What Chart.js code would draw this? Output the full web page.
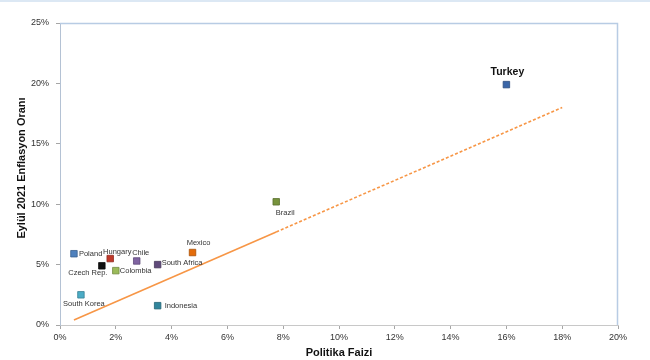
<!DOCTYPE html>
<html>
<head>
<meta charset="utf-8">
<script src="https://cdn.jsdelivr.net/npm/chart.js@4.4.1/dist/chart.umd.min.js"></script>
<style>
  html, body { margin: 0; padding: 0; background: #ffffff; }
  #wrap { position: relative; width: 650px; height: 360px; border-top: 2px solid #dce8f4; box-sizing: border-box; }
  canvas { display: block; }
</style>
</head>
<body>
<div id="wrap"><canvas id="c" width="650" height="358"></canvas></div>
<script>
// ---- data ----
const countries = ["Turkey", "Brazil", "Mexico", "South Africa", "Chile", "Hungary", "Czech Rep.", "Colombia", "Poland", "South Korea", "Indonesia"];
const policyRate = [16.0, 7.75, 4.75, 3.5, 2.75, 1.8, 1.5, 2.0, 0.5, 0.75, 3.5];
const inflation  = [19.9, 10.2, 6.0, 5.0, 5.3, 5.5, 4.9, 4.5, 5.9, 2.5, 1.6];
const pointColors = ["#3a66a8", "#77933c", "#e46c0a", "#604a7b", "#8064a2", "#c0392b", "#111111", "#9bbb59", "#4f81bd", "#4bacc6", "#31859c"];
const trendSolidX = [0.5, 7.75];
const trendSolidY = [0.41, 7.70];
const trendDashX = [7.75, 18.0];
const trendDashY = [7.70, 18.0];
const xTicks = [0, 2, 4, 6, 8, 10, 12, 14, 16, 18, 20];
const yTicks = [0, 5, 10, 15, 20, 25];
const xTitle = "Politika Faizi";
const yTitle = "Eylül 2021 Enflasyon Oranı";

const toPts = (xs, ys) => xs.map((x, i) => ({ x: x, y: ys[i] }));

function darken(hex) {
  const n = parseInt(hex.slice(1), 16);
  const r = Math.round(((n >> 16) & 255) * 0.75), g = Math.round(((n >> 8) & 255) * 0.75), b = Math.round((n & 255) * 0.75);
  return `rgb(${r},${g},${b})`;
}

// label placement per country (style, not data)
const labelPlace = {
  "Turkey": { dx: 1, dy: -12, align: "center", bold: true },
  "Brazil": { dx: 9, dy: 11, align: "center" },
  "Mexico": { dx: 6, dy: -10, align: "center" },
  "South Africa": { dx: 4, dy: -2, align: "left" },
  "Chile": { dx: 4, dy: -8, align: "center" },
  "Hungary": { dx: 7, dy: -7, align: "center" },
  "Czech Rep.": { dx: -14, dy: 7, align: "center" },
  "Colombia": { dx: 4, dy: 0, align: "left" },
  "Poland": { dx: 5, dy: 0, align: "left" },
  "South Korea": { dx: 3, dy: 9, align: "center" },
  "Indonesia": { dx: 7, dy: 0, align: "left" }
};

const labelsPlugin = {
  id: "labels",
  afterDatasetsDraw(chart) {
    const ctx = chart.ctx;
    const meta = chart.getDatasetMeta(0);
    ctx.save();
    ctx.textBaseline = "middle";
    meta.data.forEach((el, i) => {
      const name = countries[i];
      const p = labelPlace[name] || { dx: 5, dy: 0, align: "left" };
      ctx.fillStyle = p.bold ? "#111111" : "#333333";
      ctx.font = p.bold ? "bold 10.5px 'Liberation Sans', Arial, sans-serif" : "7.5px 'Liberation Sans', Arial, sans-serif";
      ctx.textAlign = p.align;
      ctx.fillText(name, el.x + p.dx, el.y + p.dy);
    });
    ctx.restore();
  },
  afterDraw(chart) {
    const ctx = chart.ctx;
    const a = chart.chartArea;
    ctx.save();
    // top & right border
    ctx.strokeStyle = "#b8cce4";
    ctx.lineWidth = 1.5;
    ctx.beginPath();
    ctx.moveTo(a.left, a.top + 0.5);
    ctx.lineTo(a.right - 0.5, a.top + 0.5);
    ctx.lineTo(a.right - 0.5, a.bottom);
    ctx.stroke();
    // axis titles
    ctx.fillStyle = "#111111";
    ctx.font = "bold 11px 'Liberation Sans', Arial, sans-serif";
    ctx.textAlign = "center";
    ctx.textBaseline = "middle";
    ctx.fillText(xTitle, (a.left + a.right) / 2, 351);
    ctx.translate(22, 166);
    ctx.rotate(-Math.PI / 2);
    ctx.fillText(yTitle, 0, 0);
    ctx.restore();
  }
};

new Chart(document.getElementById("c"), {
  type: "scatter",
  data: {
    datasets: [
      {
        data: toPts(policyRate, inflation),
        pointStyle: "rect",
        pointRadius: 4.6,
        pointHoverRadius: 4.6,
        pointBackgroundColor: pointColors,
        pointBorderColor: pointColors.map(darken),
        pointBorderWidth: 0.8,
        showLine: false,
        order: 0
      },
      {
        type: "line",
        data: toPts(trendSolidX, trendSolidY),
        borderColor: "#f79646",
        borderWidth: 1.6,
        pointRadius: 0,
        fill: false,
        order: 1
      },
      {
        type: "line",
        data: toPts(trendDashX, trendDashY),
        borderColor: "#f79646",
        borderWidth: 1.6,
        borderDash: [3, 2],
        pointRadius: 0,
        fill: false,
        order: 1
      }
    ]
  },
  options: {
    responsive: false,
    animation: false,
    events: [],
    layout: { padding: { left: 0, right: 32, top: 21, bottom: 0 } },
    plugins: { legend: { display: false }, tooltip: { enabled: false } },
    scales: {
      x: {
        type: "linear",
        min: 0, max: 20,
        afterBuildTicks: s => { s.ticks = xTicks.map(v => ({ value: v })); },
        afterFit: s => { s.height = 35; },
        grid: { drawOnChartArea: false, drawTicks: true, tickLength: 4, color: "#a6a6a6" },
        border: { color: "#c8c8c8", width: 1 },
        ticks: { color: "#333333", padding: 3, font: { family: "'Liberation Sans', Arial, sans-serif", size: 9 }, callback: v => v + "%" , maxRotation: 0 }
      },
      y: {
        type: "linear",
        min: 0, max: 25,
        afterBuildTicks: s => { s.ticks = yTicks.map(v => ({ value: v })); },
        afterFit: s => { s.width = 60; },
        grid: { drawOnChartArea: false, drawTicks: true, tickLength: 4, color: "#a6a6a6" },
        border: { color: "#b4c2d4", width: 1 },
        ticks: { color: "#333333", padding: 7, font: { family: "'Liberation Sans', Arial, sans-serif", size: 9 }, callback: v => v + "%" }
      }
    }
  },
  plugins: [labelsPlugin]
});
</script>
</body>
</html>
